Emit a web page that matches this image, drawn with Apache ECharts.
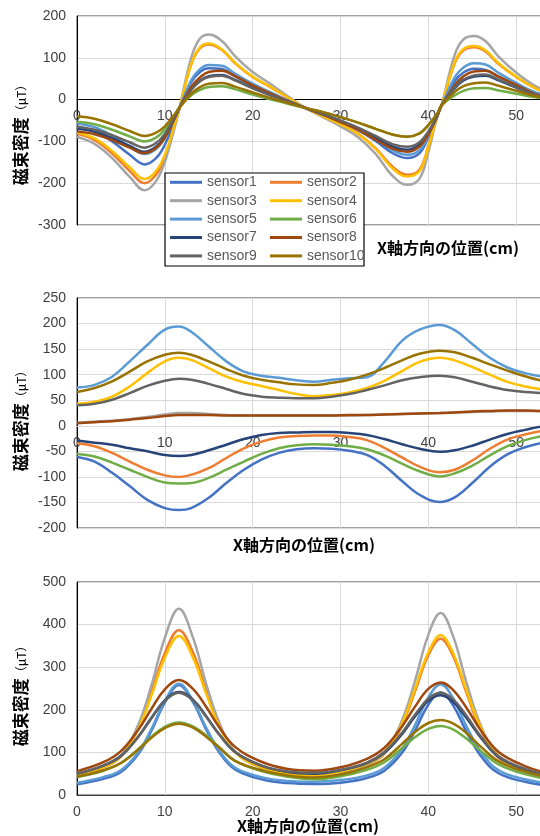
<!DOCTYPE html>
<html><head><meta charset="utf-8">
<script src="https://cdn.jsdelivr.net/npm/echarts@6/dist/echarts.min.js"></script>
<style>html,body{margin:0;padding:0;background:#fff}#c{width:540px;height:836px}</style>
</head><body><div id="c"></div>
<script>
// ---- data ----
const sensorNames = ['sensor1','sensor2','sensor3','sensor4','sensor5','sensor6','sensor7','sensor8','sensor9','sensor10'];
const sensorColors = ['#4472C4','#ED7D31','#A5A5A5','#FFC000','#5B9BD5','#70AD47','#264478','#9E480E','#636363','#997300'];

// Chart 1 (top)
const topX = [0,2,4,6,7.7,9,10,11,11.7,13,14,15,16.5,18,20,22,24,26,28,30,32,34,36,37.6,39,40,41,41.5,43,44,45.2,46.5,48,50,52,54];
const topS1  = [-64,-76,-100,-132,-155,-140,-108,-58,-18,41,66,75,73,56,33,15,-3,-20,-37,-54,-73,-99,-129,-140,-128,-90,-39,-14,44,65,74,71,55,34,16,6];
const topS2  = [-82,-97,-129,-171,-200,-180,-138,-71,-18,84,123,132,119,87,54,30,5,-20,-39,-58,-81,-116,-162,-180,-167,-111,-39,-14,87,118,125,115,85,54,29,12];
const topS3  = [-89,-106,-140,-185,-217,-195,-149,-76,-18,100,146,156,140,104,66,38,8,-20,-42,-64,-90,-130,-184,-204,-189,-125,-42,-14,107,144,152,140,103,65,35,15];
const topS4  = [-78,-93,-123,-162,-190,-171,-132,-68,-18,85,125,134,120,88,55,31,5,-20,-40,-59,-82,-118,-166,-184,-171,-114,-40,-14,90,121,128,118,87,55,29,13];
const topS5  = [-57,-66,-86,-112,-130,-118,-92,-50,-18,46,73,83,81,62,38,18,-2,-20,-36,-51,-69,-94,-122,-132,-121,-85,-38,-14,53,77,87,84,64,40,19,7];
const topS6  = [-53,-59,-72,-88,-100,-91,-72,-42,-18,10,23,30,32,25,12,1,-10,-20,-30,-42,-55,-70,-84,-89,-81,-61,-34,-14,10,21,27,28,22,14,6,1];
const topS7  = [-70,-77,-92,-111,-125,-113,-89,-49,-18,24,45,56,59,47,28,11,-5,-20,-35,-52,-70,-92,-113,-120,-108,-80,-40,-14,27,46,55,57,46,29,13,3];
const topS8  = [-76,-83,-97,-115,-128,-116,-91,-50,-18,30,53,66,69,56,34,15,-3,-20,-36,-54,-72,-96,-118,-125,-112,-83,-41,-14,34,56,67,69,55,35,15,3];
const topS9  = [-65,-72,-85,-102,-115,-104,-82,-46,-18,23,44,54,57,46,27,11,-5,-20,-34,-50,-67,-87,-107,-113,-102,-76,-39,-14,29,48,58,60,48,30,13,3];
const topS10 = [-40,-46,-59,-75,-87,-79,-64,-38,-18,14,30,38,40,31,17,4,-8,-20,-30,-42,-55,-70,-84,-89,-81,-61,-34,-14,18,32,39,41,33,21,9,2];

// Chart 2 (middle)
const midX = [0,2,4,6,8,10,11.6,13,15,17,19,21,23,25,27,29,31,33,35,37,39,41.3,43,45,47,49,51,53,55];
const midS1  = [-61,-70,-92,-118,-145,-161,-165,-161,-141,-112,-86,-66,-53,-46,-44,-45,-49,-57,-78,-108,-135,-149,-140,-112,-80,-56,-42,-33,-28];
const midS2  = [-34,-40,-53,-70,-86,-97,-100,-96,-83,-63,-44,-31,-23,-20,-19,-19,-22,-28,-43,-62,-80,-91,-86,-68,-45,-27,-17,-10,-6];
const midS3  = [6,8,10,13,17,22,25,25,23,21,20,20,20,20,20,20,20,21,22,23,24,25,26,27,28,29,29,29,29];
const midS4  = [43,47,57,77,103,126,133,129,113,96,85,78,70,62,58,60,65,74,88,107,125,133,128,115,100,86,77,71,67];
const midS5  = [75,80,96,126,158,188,194,184,155,126,106,98,94,89,86,90,93,95,125,166,188,197,187,160,133,114,103,96,92];
const midS6  = [-55,-60,-72,-86,-100,-111,-113,-112,-102,-86,-70,-55,-44,-38,-36,-37,-40,-46,-58,-74,-89,-99,-93,-78,-58,-40,-28,-20,-16];
const midS7  = [-29,-33,-37,-44,-50,-57,-59,-57,-48,-37,-26,-18,-14,-13,-12,-12,-14,-18,-26,-36,-45,-51,-48,-39,-27,-16,-8,-1,2];
const midS8  = [5,7,9,12,15,19,21,21,21,20,20,20,20,20,20,20,21,21,22,23,24,25,26,28,29,30,30,29,29];
const midS9  = [40,43,51,64,78,88,92,90,82,72,62,57,55,54,54,57,62,70,79,89,95,98,95,86,77,70,66,64,62];
const midS10 = [66,74,87,106,126,139,143,139,126,111,98,90,85,81,80,84,90,100,113,128,141,147,144,133,120,108,97,88,83];

// Chart 3 (bottom)
const botX = [0,3,5,7,8.5,10,11.6,13.2,14.7,16.2,18,21,24,27,30,33,35,37,38.5,40,41.4,42.8,44.3,46,48,51,54];
const botS1  = [25,38,54,97,152,217,258,218,154,100,60,37,28,26,29,40,57,99,152,212,241,211,150,91,51,31,21];
const botS2  = [44,65,91,160,243,333,387,335,245,165,101,64,49,46,52,70,97,164,244,328,367,327,242,152,87,53,37];
const botS3  = [43,64,92,166,259,369,437,370,261,170,102,64,48,45,52,71,100,175,269,376,427,374,267,162,90,54,37];
const botS4  = [45,65,90,156,235,322,373,323,238,161,100,65,50,47,55,73,100,168,250,335,375,334,248,157,91,57,40];
const botS5  = [29,42,58,101,156,221,261,221,158,104,64,42,33,31,35,46,64,108,165,229,260,228,163,101,58,37,26];
const botS6  = [42,57,75,108,137,160,170,161,140,112,80,56,43,37,44,59,77,110,136,155,162,154,133,103,72,49,36];
const botS7  = [50,69,92,138,182,222,242,224,185,142,101,69,54,50,58,75,99,143,185,221,234,219,182,134,89,60,43];
const botS8  = [56,77,103,154,203,248,270,249,207,159,113,78,61,57,65,85,111,161,208,249,264,247,206,151,101,68,49];
const botS9  = [50,69,91,137,181,221,240,222,184,142,101,69,55,52,59,76,101,146,189,226,240,225,187,137,91,61,44];
const botS10 = [43,58,75,107,135,157,167,158,137,111,80,58,46,41,48,65,84,120,148,169,176,168,146,113,79,55,40];

const yTitle = '磁束密度';
const yUnit = '（μT）';
const xTitle = 'X軸方向の位置(cm)';

// ---- build ----
const charts = [
  {x: topX, ys: [topS1,topS2,topS3,topS4,topS5,topS6,topS7,topS8,topS9,topS10]},
  {x: midX, ys: [midS1,midS2,midS3,midS4,midS5,midS6,midS7,midS8,midS9,midS10]},
  {x: botX, ys: [botS1,botS2,botS3,botS4,botS5,botS6,botS7,botS8,botS9,botS10]}
];

const FONT = '"Liberation Sans", Arial, sans-serif';
const CJK = '"Noto Sans CJK JP", "Noto Sans", sans-serif';
const gridLine = '#d9d9d9';

const grids = [
  {left: 77, top: 16, width: 527, height: 209},
  {left: 77, top: 298, width: 527, height: 230},
  {left: 77, top: 582, width: 527, height: 213}
].map(g => Object.assign(g, {show: true, borderColor: '#404040', borderWidth: 1,
  backgroundColor: 'transparent', containLabel: false, outerBoundsMode: 'none'}));

const yRanges = [
  {min: -300, max: 200, interval: 100},
  {min: -200, max: 250, interval: 50},
  {min: 0, max: 500, interval: 100}
];
// offset moves each x axis (line + labels) up to the y = 0 line
const xOffsets = [-126, -102, 0];
const xLineColors = ['#000000', gridLine, '#404040'];

const xAxes = grids.map((g, i) => ({
  type: 'value', gridIndex: i, min: 0, max: 60, interval: 10,
  position: 'bottom', offset: xOffsets[i],
  axisLine: {show: true, onZero: false, lineStyle: {color: xLineColors[i], width: 1}},
  axisTick: {show: false},
  axisLabel: {color: '#404040', fontSize: 14, fontFamily: FONT, margin: 10, hideOverlap: false},
  splitLine: {show: true, lineStyle: {color: gridLine, width: 1}}
}));
const yAxes = grids.map((g, i) => Object.assign({
  type: 'value', gridIndex: i,
  axisLine: {show: true, onZero: false, lineStyle: {color: '#000', width: 1}},
  axisTick: {show: false},
  axisLabel: {color: '#404040', fontSize: 14, fontFamily: FONT, margin: 11},
  splitLine: {show: true, lineStyle: {color: gridLine, width: 1}}
}, yRanges[i]));

const series = [];
charts.forEach((c, gi) => {
  c.ys.forEach((ys, si) => {
    series.push({
      type: 'line', name: sensorNames[si], xAxisIndex: gi, yAxisIndex: gi,
      data: c.x.map((x, k) => [x, ys[k]]),
      symbol: 'none', showSymbol: false, smooth: 0.4,
      lineStyle: {width: 2.5, color: sensorColors[si]},
      itemStyle: {color: sensorColors[si]},
      emphasis: {disabled: true}
    });
  });
});

const legendBase = {
  orient: 'vertical', padding: 0, itemGap: 4.4, itemWidth: 32, itemHeight: 3,
  icon: 'rect', z: 20, selectedMode: false,
  textStyle: {color: '#595959', fontSize: 14, lineHeight: 14, fontFamily: FONT}
};

function yTitleText(cy) {
  return {
    type: 'text', x: 21, y: cy, rotation: Math.PI / 2, z: 30,
    style: {
      text: '{a|' + yTitle + '}{b|' + yUnit + '}',
      align: 'center', verticalAlign: 'middle',
      rich: {
        a: {fontSize: 17, fontWeight: 'bold', fontFamily: CJK, fill: '#000'},
        b: {fontSize: 12, fontFamily: CJK, fill: '#000'}
      }
    }
  };
}
function xTitleText(cx, cy) {
  return {
    type: 'text', x: cx, y: cy, z: 30,
    style: {text: xTitle, align: 'center', verticalAlign: 'middle',
      font: 'bold 16px ' + CJK, fill: '#000'}
  };
}

const option = {
  animation: false,
  backgroundColor: '#fff',
  color: sensorColors,
  grid: grids,
  xAxis: xAxes,
  yAxis: yAxes,
  legend: [
    Object.assign({}, legendBase, {left: 170, top: 175.3, data: ['sensor1','sensor3','sensor5','sensor7','sensor9']}),
    Object.assign({}, legendBase, {left: 270, top: 175.3, data: ['sensor2','sensor4','sensor6','sensor8','sensor10']})
  ],
  graphic: [
    {type: 'rect', z: 15, shape: {x: 165, y: 173, width: 199, height: 93},
     style: {fill: '#fff', stroke: '#000', lineWidth: 1.2}},
    yTitleText(132),
    yTitleText(418),
    yTitleText(693),
    xTitleText(448, 248),
    xTitleText(304, 545),
    xTitleText(308, 826)
  ],
  series: series
};

const chart = echarts.init(document.getElementById('c'), null, {renderer: 'canvas'});
chart.setOption(option);
</script>
</body></html>
